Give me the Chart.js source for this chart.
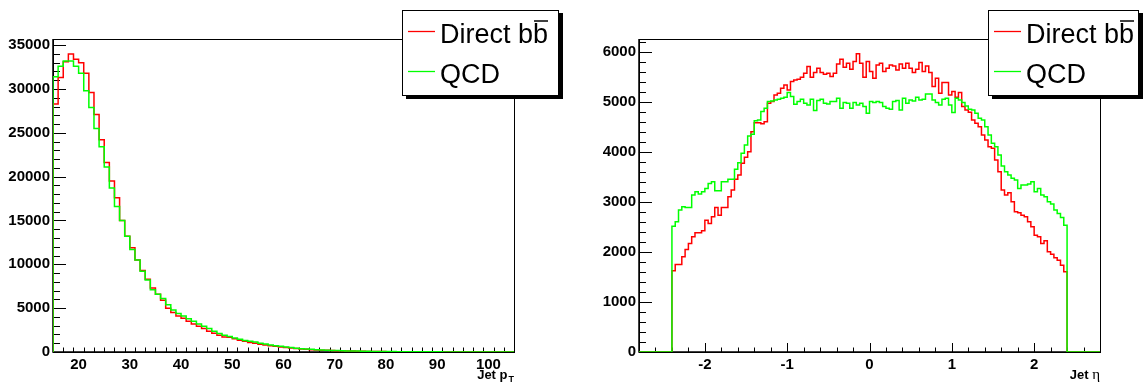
<!DOCTYPE html>
<html>
<head>
<meta charset="utf-8">
<script src="https://cdn.jsdelivr.net/npm/chart.js"></script>
<style>
  body { margin: 0; background: #fff; }
  .panel { position: absolute; top: 0; }
  #ptChart { left: 0; }
  #etaChart { left: 572px; }
</style>
</head>
<body>
<canvas id="ptChart" class="panel" width="572" height="383"></canvas>
<canvas id="etaChart" class="panel" width="572" height="383"></canvas>
<script>
// two samples, red = direct b bbar, green = QCD
const seriesNames = ['Direct bb', 'QCD'];
const seriesColors = ['#ff0000', '#00ff00'];

// jet pT, 1 GeV bins from 15 to 105
const ptBins = [15, 105];
const ptBjet = [28300, 31300, 33100, 34000, 33400, 33000, 31800, 29600, 27100, 24200,
  21600, 19500, 17600, 15000, 13200, 11900, 10500, 9300, 8300, 7300,
  6600, 5900, 5000, 4500, 4100, 3850, 3500, 3200, 2940, 2680,
  2370, 2140, 1910, 1700, 1680, 1500, 1340, 1220, 1070, 990,
  880, 800, 720, 650, 570, 500, 450, 400, 350, 310,
  270, 240, 210, 190, 165, 145, 130, 115, 100, 90,
  80, 70, 62, 55, 48, 42, 38, 33, 29, 26,
  23, 20, 18, 16, 14, 12, 11, 10, 9, 8,
  7, 6, 5, 5, 4, 4, 3, 3, 3, 2];
const ptQcd = [31400, 32600, 33200, 33200, 32600, 31800, 29800, 27900, 25500, 23400,
  21100, 18700, 16600, 15000, 13200, 11700, 10500, 9200, 8200, 7100,
  6600, 6100, 5400, 4800, 4400, 4100, 3800, 3500, 3200, 2940,
  2680, 2370, 2100, 1910, 1760, 1600, 1450, 1300, 1220, 1150,
  990, 920, 800, 720, 650, 570, 500, 440, 380, 340,
  300, 265, 235, 210, 185, 165, 145, 128, 113, 100,
  90, 80, 70, 62, 55, 49, 44, 39, 34, 30,
  27, 24, 21, 19, 17, 15, 13, 12, 11, 10,
  9, 8, 7, 6, 5, 5, 4, 4, 3, 3];
const ptXTicks = [20, 30, 40, 50, 60, 70, 80, 90, 100];
const ptYTicks = [0, 5000, 10000, 15000, 20000, 25000, 30000, 35000];

// jet eta, 0.04 bins filled between -2.4 and 2.4, axis from -2.8 to 2.8
const etaBins = [-2.4, 2.4];
const etaRange = [-2.8, 2.8];
const etaBjet = [1620, 1747, 1747, 1900, 2047, 2167, 2300, 2380, 2380, 2420,
  2633, 2567, 2700, 2887, 2733, 2887, 2887, 3100, 3233, 3447,
  3533, 3767, 3887, 4000, 4400, 4580, 4580, 4560, 4600, 4967,
  5000, 5133, 5167, 5267, 5333, 5233, 5400, 5433, 5447, 5487,
  5567, 5700, 5487, 5580, 5667, 5580, 5547, 5567, 5500, 5567,
  5753, 5847, 5687, 5767, 5647, 5800, 5953, 5767, 5487, 5800,
  5600, 5467, 5733, 5767, 5600, 5667, 5733, 5713, 5633, 5753,
  5667, 5767, 5667, 5580, 5647, 5780, 5600, 5713, 5580, 5300,
  5467, 5167, 5380, 5380, 5133, 5200, 5087, 5180, 4900, 4833,
  4787, 4633, 4567, 4500, 4333, 4233, 4100, 4067, 3833, 3600,
  3233, 3133, 3180, 3000, 2800, 2780, 2733, 2700, 2600, 2500,
  2333, 2300, 2167, 2220, 2000, 1950, 1880, 1833, 1733, 1600];
const etaQcd = [2513, 2600, 2833, 2900, 2887, 2887, 3133, 3200, 3153, 3200,
  3267, 3367, 3400, 3220, 3220, 3400, 3400, 3447, 3447, 3647,
  3780, 3967, 4133, 4313, 4347, 4620, 4633, 4800, 4867, 5000,
  5013, 5033, 5047, 5067, 5087, 5180, 5100, 4947, 5000, 5047,
  4967, 4933, 5047, 4820, 5020, 5047, 4967, 4953, 5000, 5000,
  5067, 4867, 4980, 4967, 4867, 4980, 4933, 4967, 4900, 4767,
  5000, 4980, 5000, 4980, 4900, 4867, 4847, 5000, 5020, 4833,
  5067, 4967, 5033, 5013, 5087, 5033, 5047, 5153, 5153, 5033,
  4980, 4933, 5047, 5067, 4933, 4780, 5067, 5033, 4980, 4913,
  4847, 4833, 4767, 4667, 4633, 4500, 4333, 4167, 4100, 3933,
  3713, 3600, 3533, 3467, 3433, 3267, 3333, 3333, 3353, 3400,
  3200, 3267, 3133, 3100, 3000, 2953, 2833, 2767, 2687, 2533];
const etaXTicks = [-2, -1, 0, 1, 2];
const etaYTicks = [0, 1000, 2000, 3000, 4000, 5000, 6000];

Chart.defaults.font.family = "'Liberation Sans', Arial, sans-serif";
Chart.defaults.color = '#000';

// histogram outline as step points: bin low edge -> content, then back down to zero
function stepPoints(values, bins, range) {
  const w = (bins[1] - bins[0]) / values.length;
  const pts = [];
  if (range) pts.push({ x: range[0], y: 0 });
  pts.push({ x: bins[0], y: 0 });
  values.forEach((v, i) => pts.push({ x: bins[0] + i * w, y: v }));
  pts.push({ x: bins[1], y: values[values.length - 1] });
  pts.push({ x: bins[1], y: 0 });
  if (range) pts.push({ x: range[1], y: 0 });
  return pts;
}

// frame and inward ticks go under the histograms, title and legend on top
const histoFrame = {
  id: 'histoFrame',
  beforeDatasetsDraw(chart, args, o) {
    const ctx = chart.ctx;
    const a = chart.chartArea;
    const xs = chart.scales.x, ys = chart.scales.y;
    ctx.save();
    ctx.strokeStyle = '#000';
    ctx.lineWidth = 1;
    ctx.strokeRect(Math.round(a.left) + 0.5, Math.round(a.top) + 0.5,
      Math.round(a.right - a.left), Math.round(a.bottom - a.top));
    ctx.lineWidth = 1.5;
    ctx.beginPath();
    ctx.moveTo(a.left, a.top);
    ctx.lineTo(a.left, a.bottom);
    ctx.lineTo(a.right, a.bottom);
    ctx.stroke();

    ctx.lineWidth = 1;
    ctx.beginPath();
    // x ticks
    const nx = Math.round((xs.max - xs.min) / o.xMinor);
    for (let i = 0; i <= nx; i++) {
      const v = xs.min + i * o.xMinor;
      const major = o.xMajor.some(m => Math.abs(m - v) < 1e-6);
      const px = Math.round(xs.getPixelForValue(v)) + 0.5;
      ctx.moveTo(px, a.bottom);
      ctx.lineTo(px, a.bottom - (major ? 9 : 4.5));
    }
    // y ticks
    const ny = Math.floor(ys.max / o.yMinor);
    for (let i = 1; i <= ny; i++) {
      const v = i * o.yMinor;
      const major = v % o.yMajor === 0;
      const py = Math.round(ys.getPixelForValue(v)) + 0.5;
      ctx.moveTo(a.left, py);
      ctx.lineTo(a.left + (major ? 13 : 7), py);
    }
    ctx.stroke();
    ctx.restore();
  },
  afterDraw(chart, args, o) {
    const ctx = chart.ctx;
    const a = chart.chartArea;
    ctx.save();

    // axis title, right aligned under the axis
    const bold = "bold 13px 'Liberation Sans', Arial, sans-serif";
    ctx.fillStyle = '#000';
    ctx.textBaseline = 'alphabetic';
    ctx.font = bold;
    const wMain = ctx.measureText(o.title).width;
    if (o.sub) {
      ctx.font = "bold 9px 'Liberation Sans', Arial, sans-serif";
      const wSub = ctx.measureText(o.sub).width;
      const x0 = a.right - wMain - wSub - 1;
      ctx.fillText(o.sub, x0 + wMain + 1, 382);
      ctx.font = bold;
      ctx.fillText(o.title, x0, 379);
    } else {
      ctx.font = "15px 'Liberation Serif', 'DejaVu Serif', serif";
      const wSym = ctx.measureText(o.symbol).width;
      const x0 = a.right - wMain - wSym;
      ctx.fillText(o.symbol, x0 + wMain, 379);
      ctx.font = bold;
      ctx.fillText(o.title, x0, 379);
    }

    // legend box with drop shadow
    const L = o.legend;
    ctx.fillStyle = '#000';
    ctx.fillRect(L.x + 4, L.y + 3, L.w, L.h);
    ctx.fillStyle = '#fff';
    ctx.fillRect(L.x, L.y, L.w, L.h);
    ctx.strokeStyle = '#000';
    ctx.lineWidth = 1;
    ctx.strokeRect(L.x + 0.5, L.y + 0.5, L.w - 1, L.h - 1);
    ctx.font = "27px 'Liberation Sans', Arial, sans-serif";
    seriesNames.forEach((name, i) => {
      const base = 43 + i * 40;
      ctx.strokeStyle = seriesColors[i];
      ctx.lineWidth = 1.3;
      ctx.beginPath();
      ctx.moveTo(L.x + 6, base - 11.5);
      ctx.lineTo(L.x + 33, base - 11.5);
      ctx.stroke();
      ctx.fillStyle = '#000';
      ctx.fillText(name, L.x + 38, base);
      if (i === 0) {
        // bar over the second b
        const w1 = ctx.measureText('Direct b').width;
        const wb = ctx.measureText('b').width;
        ctx.strokeStyle = '#000';
        ctx.lineWidth = 1.5;
        ctx.beginPath();
        ctx.moveTo(L.x + 38 + w1 + 1, base - 22);
        ctx.lineTo(L.x + 38 + w1 + wb, base - 22);
        ctx.stroke();
      }
    });
    ctx.restore();
  }
};

function createHisto(canvasId, bjet, qcd, bins, range, xTicks, yTicks, yMax, yWidth, padRight, frameOpts) {
  const xMin = range ? range[0] : bins[0];
  const xMax = range ? range[1] : bins[1];
  // QCD gets the lower order so it is drawn on top of the b bbar curve
  const datasets = [bjet, qcd].map((vals, i) => ({
    label: seriesNames[i],
    data: stepPoints(vals, bins, range),
    borderColor: seriesColors[i],
    borderWidth: 1.5,
    pointRadius: 0,
    stepped: 'before',
    fill: false,
    order: 1 - i
  }));
  return new Chart(document.getElementById(canvasId), {
    type: 'line',
    data: { datasets },
    options: {
      responsive: false,
      animation: false,
      devicePixelRatio: 1,
      layout: { padding: { top: 39, right: padRight, left: 0, bottom: 0 } },
      plugins: { legend: { display: false }, tooltip: { enabled: false }, histoFrame: frameOpts },
      scales: {
        x: {
          type: 'linear', min: xMin, max: xMax,
          grid: { display: false, drawTicks: false }, border: { display: false },
          afterBuildTicks: s => { s.ticks = xTicks.map(v => ({ value: v })); },
          afterFit: s => { s.height = 31; },
          ticks: { autoSkip: false, maxRotation: 0, padding: 4, color: '#000',
            font: { size: 15, weight: 'bold' }, callback: v => String(v) }
        },
        y: {
          min: 0, max: yMax,
          grid: { display: false, drawTicks: false }, border: { display: false },
          afterBuildTicks: s => { s.ticks = yTicks.map(v => ({ value: v })); },
          afterFit: s => { s.width = yWidth; },
          ticks: { autoSkip: false, padding: 3, color: '#000',
            font: { size: 15, weight: 'bold' }, callback: v => String(v) }
        }
      }
    },
    plugins: [histoFrame]
  });
}

createHisto('ptChart', ptBjet, ptQcd, ptBins, null, ptXTicks, ptYTicks, 35700, 53, 58, {
  xMinor: 2, xMajor: ptXTicks, yMinor: 1000, yMajor: 5000,
  title: 'Jet p', sub: 'T',
  legend: { x: 402, y: 10, w: 157, h: 86 }
});

createHisto('etaChart', etaBjet, etaQcd, etaBins, etaRange, etaXTicks, etaYTicks, 6250, 67, 44, {
  xMinor: 0.2, xMajor: etaXTicks, yMinor: 200, yMajor: 1000,
  title: 'Jet ', symbol: 'η',
  legend: { x: 416, y: 10, w: 151, h: 86 }
});
</script>
</body>
</html>
